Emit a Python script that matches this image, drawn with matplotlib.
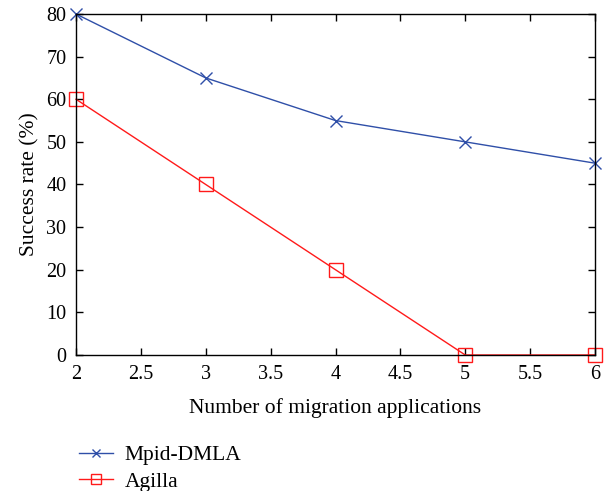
import matplotlib
matplotlib.use("Agg")
import matplotlib.pyplot as plt

apps = [2, 3, 4, 5, 6]
mpid = [80, 65, 55, 50, 45]
agilla = [60, 40, 20, 0, 0]
xticks = [2, 2.5, 3, 3.5, 4, 4.5, 5, 5.5, 6]
yticks = [0, 10, 20, 30, 40, 50, 60, 70, 80]

plt.rcParams['font.family'] = ['Liberation Serif', 'DejaVu Serif']

blue = "#2f4fa8"
red = "#ff1a1a"

fig = plt.figure(figsize=(6.1, 4.91), dpi=100)
ax = fig.add_axes([0.1246, 0.277, 0.8508, 0.6945])
l1, = ax.plot(apps, mpid, color=blue, marker="x", ms=8, mew=1.0, lw=1.0,
              label="Mpid-DMLA", clip_on=False)
l2, = ax.plot(apps, agilla, color=red, marker="s", ms=10, mfc="none", mew=1.0,
              lw=1.0, label="Agilla", clip_on=False)
ax.set_xlim(2, 6)
ax.set_ylim(0, 80)
ax.set_xticks(xticks)
ax.set_xticklabels(["2", "2.5", "3", "3.5", "4", "4.5", "5", "5.5", "6"])
ax.set_yticks(yticks)
ax.tick_params(direction="in", top=True, right=True, length=5, width=1,
               labelsize=14.5, pad=7)
for s in ax.spines.values():
    s.set_linewidth(1.0)
ax.set_xlabel("Number of migration applications", fontsize=15.5, labelpad=10)
ax.set_ylabel("Success rate (%)", fontsize=15.5, labelpad=5)

fig.legend(handles=[l1, l2], loc="lower left", bbox_to_anchor=(0.097, -0.041),
           frameon=False, fontsize=15.5, handlelength=1.6, handletextpad=0.55,
           labelspacing=0.3, markerscale=0.7)

fig.savefig("out.png", dpi=100)
